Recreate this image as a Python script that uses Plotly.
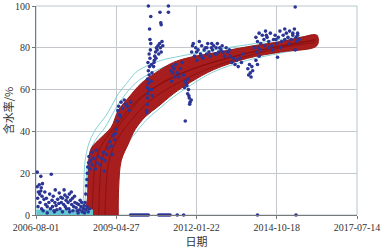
import pandas as pd
import plotly.graph_objects as go

BASE = pd.Timestamp("2006-08-01")

# x values are days since 2006-08-01
tick_labels = ["2006-08-01", "2009-04-27", "2012-01-22", "2014-10-18", "2017-07-14"]
y_ticks = [0, 20, 40, 60, 80, 100]

# red fan of simulated curves: upper and lower envelope
red_up_days = [610, 640, 650, 660, 690, 810, 937, 1025, 1150, 1312, 1487, 1712, 1925, 2212, 2637, 3050, 3300, 3500]
red_up_pct = [0, 8, 20, 27, 32, 37, 42, 50, 56, 63, 68, 73, 75.5, 77.5, 80.5, 83, 85, 86]
red_lo_days = [1025, 1030, 1062, 1150, 1237, 1362, 1525, 1712, 1925, 2212, 2637, 3050, 3500]
red_lo_pct = [0, 13, 26, 34, 41, 47, 52, 58, 63.5, 69.5, 75, 78, 81]

# a few individual fan curves inside the band
red_mid_a_days = [700, 715, 740, 800, 900, 1025, 1237, 1525, 1925, 2637, 3480]
red_mid_a_pct = [0, 14, 25, 32, 38, 44, 54, 62, 69.5, 77.5, 84]
red_mid_b_days = [860, 875, 900, 960, 1060, 1200, 1400, 1712, 2212, 3050, 3480]
red_mid_b_pct = [0, 14, 24, 32, 39, 46, 54, 62, 71, 80, 82.5]
red_mid_c_days = [780, 795, 820, 880, 980, 1120, 1312, 1600, 2000, 2700, 3480]
red_mid_c_pct = [0, 15, 26, 33, 40, 47, 56, 64, 70.5, 78, 83.5]

# cyan curves
cyan_a_days = [570, 590, 612, 650, 687, 760, 862, 940, 1025, 1130, 1237, 1362, 1560, 1800, 2212, 2637, 3050, 3480]
cyan_a_pct = [0, 8, 26, 33, 37, 42, 47, 52, 58, 63, 68, 71, 74, 76, 79, 81.5, 84, 86]
cyan_b_days = [600, 620, 640, 680, 760, 862, 1025, 1237, 1487, 1925, 2637, 3480]
cyan_b_pct = [0, 12, 24, 31, 37, 42, 53, 63, 69, 75, 80.5, 85.5]
cyan_c_days = [975, 990, 1000, 1050, 1150, 1237, 1362, 1525, 1712, 1925, 2212, 2637, 3050, 3480]
cyan_c_pct = [0, 8, 18, 30, 35, 39, 45, 50.5, 56.5, 62, 68.5, 74, 77.5, 80.5]
cyan_base_days = [5, 710]
cyan_base_pct = [1.2, 1.2]
cyan_end_days = [3400, 3515]
cyan_end_pct = [84.5, 84.5]

# observed water cut
obs_days = [
    15, 60, 190, 15, 40, 65, 80, 30, 60, 20, 50, 75, 100, 120, 140, 160, 180, 200, 215, 235,
    250, 270, 285, 300, 315, 330, 345, 360, 375, 390, 400, 415, 430, 445, 455, 470, 485, 500, 515, 530,
    545, 560, 575, 590, 605, 620, 635, 650, 665, 140, 90, 230, 260, 330, 380, 420, 460, 510, 550, 110,
    170, 240, 290, 350, 440, 25, 45, 70, 130, 205, 225, 310, 365, 410, 480, 525, 570, 600,
    590, 610, 620, 630, 635, 640, 645, 655, 660, 670, 680, 700, 720, 740, 760, 780, 800, 820, 840, 860,
    880, 900, 920, 940, 960, 980, 1000, 1010, 1020, 1030, 1040, 1060, 1080, 1100, 1120, 1140, 1160, 1180,
    700, 750, 850, 950, 990, 1050,
    1380, 1385, 1390, 1395, 1385, 1400, 1405, 1390, 1410, 1400, 1415, 1395, 1420, 1410, 1425, 1430, 1420,
    1415, 1430, 1400, 1440, 1445, 1435, 1440, 1450, 1380,
    1465, 1475, 1480, 1490, 1500, 1510, 1520, 1530, 1540, 1550, 1560, 1570, 1580, 1470, 1495, 1545, 1555,
    1560, 1650, 1650,
    1680, 1700, 1720, 1740, 1760, 1780, 1800, 1820, 1840, 1860, 1880, 1900, 1890, 1910, 1920, 1895, 1870,
    1850, 1905, 1915, 1935, 1860, 1730, 1700, 1690,
    1940, 1960, 1975, 1990, 2005, 2020, 2035, 2050, 2065, 2080, 2095, 2110, 2125, 2140, 2155, 2170, 2185,
    2200, 2215, 2230, 2245, 2260, 2275, 2290, 2305, 2320, 1950, 2000, 2060, 2130, 2190, 2250,
    2330, 2350, 2370, 2390, 2410, 2420, 2440, 2460, 2480, 2500, 2520, 2540, 2560, 2580,
    2640, 2650, 2660, 2670, 2680, 2690, 2700,
    2720, 2740, 2760, 2780, 2800, 2820, 2840, 2860, 2880, 2900, 2920, 2940, 2960, 2980, 3000, 3020, 3040,
    3060, 3080, 3100, 3120, 3140, 3160, 3180, 3200, 3220, 3240, 3260, 3280, 3230, 3230, 3010, 2750, 2780,
    2760, 2740, 2770, 2800, 2850, 2900, 2950, 3050, 3150, 3250, 3200, 3260, 3100, 2990, 2870,
    1180, 1200, 1220, 1240, 1260, 1280, 1300, 1320, 1340, 1360, 1380, 1400, 1530, 1550, 1570, 1590, 1610,
    1630, 1650, 1670, 1760, 1840, 2760, 3240,
]
obs_pct = [
    20.5, 18.5, 19.5, 13.5, 14.5, 13, 15, 11, 11.5, 8, 6, 9, 7.5, 5, 4, 6, 3, 7, 9, 6,
    4.5, 7.5, 5.5, 3, 6, 8, 5, 9.5, 7, 8.5, 6, 10, 7, 5, 8, 4, 6, 3.5, 2, 5,
    2.5, 4, 1.5, 3, 1, 2.5, 4, 1.5, 3, 1, 2, 1.5, 2.5, 1.5, 3, 1.5, 2, 5.5, 7, 11,
    10, 12, 10.5, 12, 11, 4, 10, 3, 8, 4, 2, 8.5, 4, 3, 9, 1, 6, 4.5,
    3, 6, 10, 14, 17, 20, 23, 25, 28, 22, 26, 24, 27, 22, 25, 28, 24, 27, 30, 26,
    29, 32, 35, 33, 38, 36, 41, 45, 50, 52, 48, 54, 51, 55, 53, 52, 50, 54,
    30, 31, 21, 29, 39, 47,
    50, 53, 56, 58, 61, 63, 60, 65, 67, 69, 71, 73, 75, 77, 79, 82, 84,
    89, 95, 100, 72, 68, 64, 60, 57, 49,
    71, 74, 76, 78, 80, 79, 81, 77, 82, 80, 78, 83, 81, 73, 75, 97, 92,
    91, 100, 97,
    69, 71, 70, 72, 68, 66, 70, 73, 67, 64, 62, 60, 58, 56, 54, 65, 63,
    61, 57, 53, 55, 45, 66, 68, 64,
    78, 82, 76, 80, 74, 79, 83, 77, 81, 75, 79, 80, 77, 82, 78, 76, 80,
    79, 81, 77, 80, 82, 78, 80, 79, 81, 81, 78, 76, 80, 82, 77,
    78, 76, 80, 78, 79, 76, 73, 75, 72, 74, 71, 75, 73, 77,
    70, 67, 72, 68, 66, 71, 69,
    80, 85, 83, 87, 82, 86, 84, 88, 85, 83, 87, 81, 84, 86, 82, 85, 88,
    83, 86, 84, 87, 85, 88, 84, 86, 89, 85, 87, 84, 99.5, 79, 75.5, 78, 76,
    72, 74, 80, 79, 81, 80, 79, 80, 82, 83, 87, 86, 89, 84, 86,
    0, 0, 0, 0, 0, 0, 0, 0, 0, 0, 0, 0, 0, 0, 0, 0, 0,
    0, 0, 0, 0, 0, 0, 0,
]


def to_dates(days):
    return [BASE + pd.Timedelta(days=d) for d in days]


fig = go.Figure()

CYAN = "rgba(110,200,208,0.85)"
for dd, pp in [(cyan_a_days, cyan_a_pct), (cyan_b_days, cyan_b_pct), (cyan_c_days, cyan_c_pct)]:
    fig.add_trace(go.Scatter(x=to_dates(dd), y=pp, mode="lines",
                             line=dict(color=CYAN, width=1, shape="spline"),
                             hoverinfo="skip", showlegend=False))

fig.add_trace(go.Scatter(x=to_dates(cyan_end_days), y=cyan_end_pct, mode="lines",
                         line=dict(color="#6fd0d8", width=7), showlegend=False))

poly_days = red_up_days + red_lo_days[::-1]
poly_pct = red_up_pct + red_lo_pct[::-1]
fig.add_trace(go.Scatter(x=to_dates(poly_days), y=poly_pct, mode="lines", fill="toself",
                         fillcolor="#a81d1d", line=dict(color="#9a1818", width=1, shape="spline"),
                         showlegend=False))

for dd, pp in [(red_mid_a_days, red_mid_a_pct), (red_mid_b_days, red_mid_b_pct),
               (red_mid_c_days, red_mid_c_pct)]:
    fig.add_trace(go.Scatter(x=to_dates(dd), y=pp, mode="lines",
                             line=dict(color="rgba(120,10,10,0.55)", width=1, shape="spline"),
                             hoverinfo="skip", showlegend=False))

fig.add_trace(go.Scatter(x=to_dates(cyan_base_days), y=cyan_base_pct, mode="lines",
                         line=dict(color="#62c8d0", width=6), showlegend=False))

fig.add_trace(go.Scatter(x=to_dates(obs_days), y=obs_pct, mode="markers",
                         marker=dict(color="#2b3595", size=3.6), cliponaxis=False,
                         showlegend=False))

tick_vals = [pd.Timestamp(t) for t in tick_labels]
fig.update_layout(
    width=381, height=252,
    margin=dict(l=36, r=24, t=6, b=37),
    paper_bgcolor="white", plot_bgcolor="white",
    font=dict(family="Liberation Serif, serif", size=10, color="#333"),
    xaxis=dict(range=[tick_vals[0], tick_vals[-1]], tickvals=tick_vals, ticktext=tick_labels,
               showgrid=True, gridcolor="#c4c8cc", gridwidth=1,
               showline=True, linecolor="#777", linewidth=1,
               ticks="outside", ticklen=3, tickcolor="#777",
               title=dict(text="日期", font=dict(family="Noto Sans CJK SC", size=11), standoff=4),
               zeroline=False, automargin=False),
    yaxis=dict(range=[0, 100], tickvals=y_ticks,
               showgrid=True, gridcolor="#c4c8cc", gridwidth=1,
               showline=True, linecolor="#777", linewidth=1,
               ticks="outside", ticklen=3, tickcolor="#777",
               title=dict(text="含水率/%", font=dict(family="Noto Sans CJK SC", size=11), standoff=4),
               zeroline=False, automargin=False),
    shapes=[dict(type="rect", xref="paper", yref="paper", x0=0, x1=1, y0=0, y1=1,
                 line=dict(color="#b8c8d0", width=1), fillcolor="rgba(0,0,0,0)", layer="below")],
)

fig.write_html("out.html", config={"displayModeBar": False},
               post_script="document.body.style.margin='0';document.body.style.overflow='hidden';")
